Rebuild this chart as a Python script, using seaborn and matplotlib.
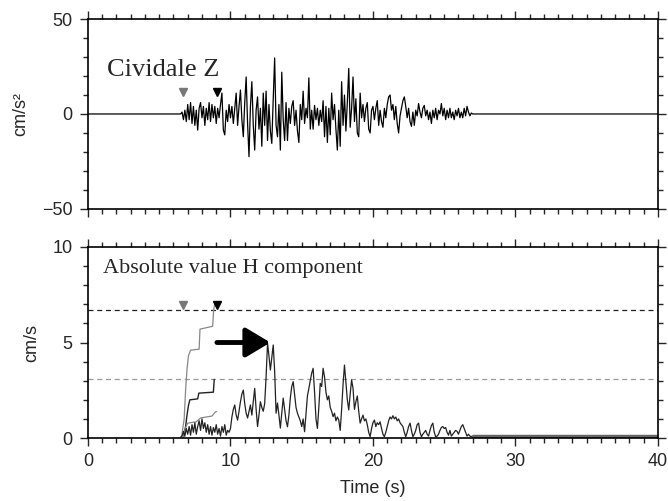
"""
Cividale Z accelerogram and absolute H-component velocity
"""

import numpy as np
import pandas as pd
import matplotlib
matplotlib.use('Agg')
import matplotlib.pyplot as plt
from matplotlib.ticker import MultipleLocator
import seaborn as sns

# --- data ---
# acceleration (cm/s^2), Z component, sampled every 0.1 s from 6.5 s to 27.0 s
acc_t0 = 6.5
acc_dt = 0.1
acc_vals = [
    0, 1, -3, 2, -4,                                  # 6.5 - 6.9
    5, -3, 6, -5, 4, -6, 2, -8.5, 3, 6,               # 7
    -2, 4, -6, 3, -3, 6, -4, 5, -2, 4,                # 8
    -5, 3, -2, 5, 11, -8.5, -11, 2, -4, 5,            # 9
    -2, 4, -5, 3, 11, -6, 4, 12.6, -3, -12,           # 10
    6, 19.5, -5, -22.5, 4, 17, -6, -19, 2, 9,         # 11
    -8, 3, -17, 11, -6, 12, -14, 5, -9, -15.5,        # 12
    8, 29.5, -6, -12, 5, -19, 22, -3, -14, 6,         # 13
    -14, 3, -5, 4, 7, -6, 2, -9, -15, 5,              # 14
    -3, 12, -5, 3, -2, 19, -8, 2, -8, 4.5,            # 15
    -3, 3, -6, 2, -4, 7, -12, 4, -15, 3,              # 16
    -11, 11, -3, 5, -8, -19, 2, -17, 17, -6,          # 17
    10, -9, 6, 24, -7, 3, 19.5, -4, 8, -10,           # 18
    -12, 11, -2, 5, -4, 3, 6, -8, -10, 2,             # 19
    4, -3, 3, 7, -6, 2, -4, -7, 3, -2,                # 20
    5, 9, 10, 2, 5, -3, 4, -5, -10, -1,               # 21
    3, 7, 9, 4, -2, 3, -4, -6.5, 1, -6,               # 22
    2, -1, 5.5, 1, -2, 3, 4.5, -1, 2, -3,             # 23
    1, -5, 2, -2, 3, -3, 2, 0, 5.5, -1,               # 24
    3, -3, 2, -2, 3, -2, 1, -3, 2, -1,                # 25
    3, -2, 1, -2, 3, -1, 4, 1, -1, 0.5,               # 26
    0,                                                # 27.0
]

# absolute value of H component velocity (cm/s), same sampling
vel_vals = [
    0.05, 0.1, 0.35, 0.1, 0.5,                                # 6.5 - 6.9
    0.2, 0.6, 0.15, 0.7, 0.3, 0.8, 0.2, 0.6, 0.9, 0.4,        # 7
    1.0, 0.5, 0.8, 0.3, 0.7, 0.2, 0.6, 0.15, 0.55, 0.3,       # 8
    0.7, 0.2, 0.5, 0.1, 0.6, 0.3, 0.7, 0.15, 0.4, 0.3,        # 9
    0.5, 1.1, 1.5, 1.73, 1.2, 0.94, 1.4, 1.9, 2.3, 2.51,      # 10
    1.8, 1.3, 1.05, 1.4, 1.73, 1.2, 1.9, 2.6, 1.5, 0.6,       # 11
    1.2, 1.9, 1.6, 1.4, 1.8, 3.2, 4.96, 4.3, 3.56, 4.2,       # 12
    4.87, 3.5, 1.3, 1.83, 1.2, 0.52, 1.3, 2.09, 1.5, 0.9,     # 13
    0.59, 1.2, 2.1, 2.7, 2.95, 2.3, 1.6, 1.3, 1.1, 0.9,       # 14
    0.6, 1.0, 0.33, 1.3, 2.2, 2.6, 3.0, 3.4, 3.65, 2.4,       # 15
    1.0, 0.5, 1.6, 2.86, 2.7, 3.65, 3.2, 2.4, 2.0, 2.2,       # 16
    1.6, 1.4, 1.12, 1.3, 0.9, 1.1, 0.94, 0.4, 1.5, 2.8,       # 17
    3.82, 2.9, 2.0, 1.47, 2.3, 3.04, 2.6, 1.5, 1.9, 2.2,      # 18
    1.4, 0.78, 1.0, 1.2, 0.9, 1.0, 0.7, 0.3, 0.07, 0.5,       # 19
    0.8, 0.94, 0.6, 0.8, 0.7, 0.85, 0.5, 0.2, 0.07, 0.3,      # 20
    0.6, 0.9, 1.1, 1.0, 1.17, 1.0, 1.1, 0.9, 1.0, 0.8,        # 21
    0.7, 0.6, 0.3, 0.07, 0.3, 0.6, 0.78, 0.4, 0.07, 0.2,      # 22
    0.4, 0.7, 0.78, 0.3, 0.07, 0.2, 0.3, 0.4, 0.2, 0.1,       # 23
    0.4, 0.65, 0.78, 0.3, 0.07, 0.1, 0.2, 0.4, 0.55, 0.6,     # 24
    0.5, 0.55, 0.3, 0.15, 0.4, 0.1, 0.2, 0.3, 0.4, 0.35,      # 25
    0.2, 0.4, 0.6, 0.7, 0.5, 0.3, 0.1, 0.2, 0.1, 0.08,        # 26
    0.08,                                                     # 27.0
]

# quiet tail of the velocity record after the coda
tail_t = [27.0, 40.0]
tail_v = [0.08, 0.08]

# running maxima (step curves) up to the black marker
step_hi_t = [6.57, 6.75, 6.85, 6.95, 7.05, 7.2, 7.8, 7.86, 8.75, 8.82, 8.9]
step_hi_v = [0.07, 1.0, 2.5, 3.6, 4.3, 4.6, 4.65, 5.7, 5.85, 6.7, 7.05]
step_mid_t = [6.7, 6.85, 6.95, 7.05, 7.15, 7.7, 7.78, 8.8, 8.86]
step_mid_v = [0.05, 0.6, 1.2, 1.7, 2.0, 2.05, 2.35, 2.4, 3.07]
step_lo_t = [6.7, 6.85, 7.0, 7.6, 7.9, 8.7, 8.95, 9.03]
step_lo_v = [0.05, 0.55, 0.78, 0.85, 1.05, 1.15, 1.37, 1.38]

# thresholds and markers
thr_hi = 6.7
thr_lo = 3.07
pick_gray = 6.65
pick_black = 9.07
arrow_from = (9.05, 5.0)
arrow_to = (12.8, 5.0)

record_start, record_end = 0.0, 40.0

# --- build series ---
acc_t = acc_t0 + acc_dt * np.arange(len(acc_vals))
df_acc = pd.DataFrame({
    't': np.concatenate([[record_start], acc_t, [record_end]]),
    'a': np.concatenate([[0.0], acc_vals, [0.0]]),
})
df_vel = pd.DataFrame({'t': acc_t0 + acc_dt * np.arange(len(vel_vals)), 'v': vel_vals})

sns.set_style('ticks')
plt.rcParams['font.family'] = ['Liberation Sans', 'DejaVu Sans']
plt.rcParams['axes.linewidth'] = 1.2

fig = plt.figure(figsize=(6.68, 5.01), dpi=100)
ax1 = fig.add_axes([0.1317, 0.583, 0.8533, 0.379])
ax2 = fig.add_axes([0.1317, 0.1257, 0.8533, 0.3813])

# top: acceleration
sns.lineplot(data=df_acc, x='t', y='a', ax=ax1, color='black', lw=0.9,
             estimator=None, sort=False)
ax1.plot([pick_gray], [11.7], marker='v', ms=5.5, color='#777777', ls='none')
ax1.plot([pick_black], [11.7], marker='v', ms=5.5, color='black', ls='none')
ax1.text(0.033, 0.70, 'Cividale Z', transform=ax1.transAxes,
         family='Liberation Serif', fontsize=19, va='baseline')
ax1.set_xlim(0, 40)
ax1.set_ylim(-50, 50)
ax1.yaxis.set_major_locator(MultipleLocator(50))
ax1.yaxis.set_minor_locator(MultipleLocator(10))
ax1.set_ylabel('cm/s²', fontsize=13, labelpad=9)
ax1.set_xlabel('')
ax1.tick_params(labelbottom=False)

# bottom: absolute velocity
ax2.axhline(thr_hi, color='#222222', lw=0.9, ls=(0, (4, 3)))
ax2.axhline(thr_lo, color='#999999', lw=0.9, ls=(0, (4, 3)))
sns.lineplot(x=step_hi_t, y=step_hi_v, ax=ax2, color='#888888', lw=0.9,
             estimator=None, sort=False)
sns.lineplot(x=step_mid_t, y=step_mid_v, ax=ax2, color='#222222', lw=1.0,
             estimator=None, sort=False)
sns.lineplot(x=step_lo_t, y=step_lo_v, ax=ax2, color='#888888', lw=0.9,
             estimator=None, sort=False)
sns.lineplot(data=df_vel, x='t', y='v', ax=ax2, color='#222222', lw=0.9,
             estimator=None, sort=False)
sns.lineplot(x=tail_t, y=tail_v, ax=ax2, color='#666666', lw=2.5,
             estimator=None, sort=False)
ax2.plot([pick_gray], [6.96], marker='v', ms=5.5, color='#777777', ls='none')
ax2.plot([pick_black], [6.96], marker='v', ms=5.5, color='black', ls='none')
ax2.annotate('', xy=arrow_to, xytext=arrow_from,
             arrowprops=dict(arrowstyle='-|>,head_width=0.45,head_length=0.75',
                             lw=3.5, color='black', mutation_scale=20,
                             shrinkA=0, shrinkB=0))
ax2.text(0.027, 0.864, 'Absolute value H component', transform=ax2.transAxes,
         family='Liberation Serif', fontsize=16, va='baseline')
ax2.set_xlim(0, 40)
ax2.set_ylim(0, 10)
ax2.yaxis.set_major_locator(MultipleLocator(5))
ax2.yaxis.set_minor_locator(MultipleLocator(1))
ax2.set_ylabel('cm/s', fontsize=13, labelpad=9)
ax2.set_xlabel('Time (s)', fontsize=13, labelpad=7)

for ax in (ax1, ax2):
    ax.xaxis.set_major_locator(MultipleLocator(10))
    ax.xaxis.set_minor_locator(MultipleLocator(1))
    ax.tick_params(which='both', direction='out', top=True, right=True,
                   width=1.0, labelsize=13, pad=5)
    ax.tick_params(which='major', length=6)
    ax.tick_params(which='minor', length=3.5)
    for s in ax.spines.values():
        s.set_visible(True)
        s.set_color('black')

fig.savefig('out.png', dpi=100)
